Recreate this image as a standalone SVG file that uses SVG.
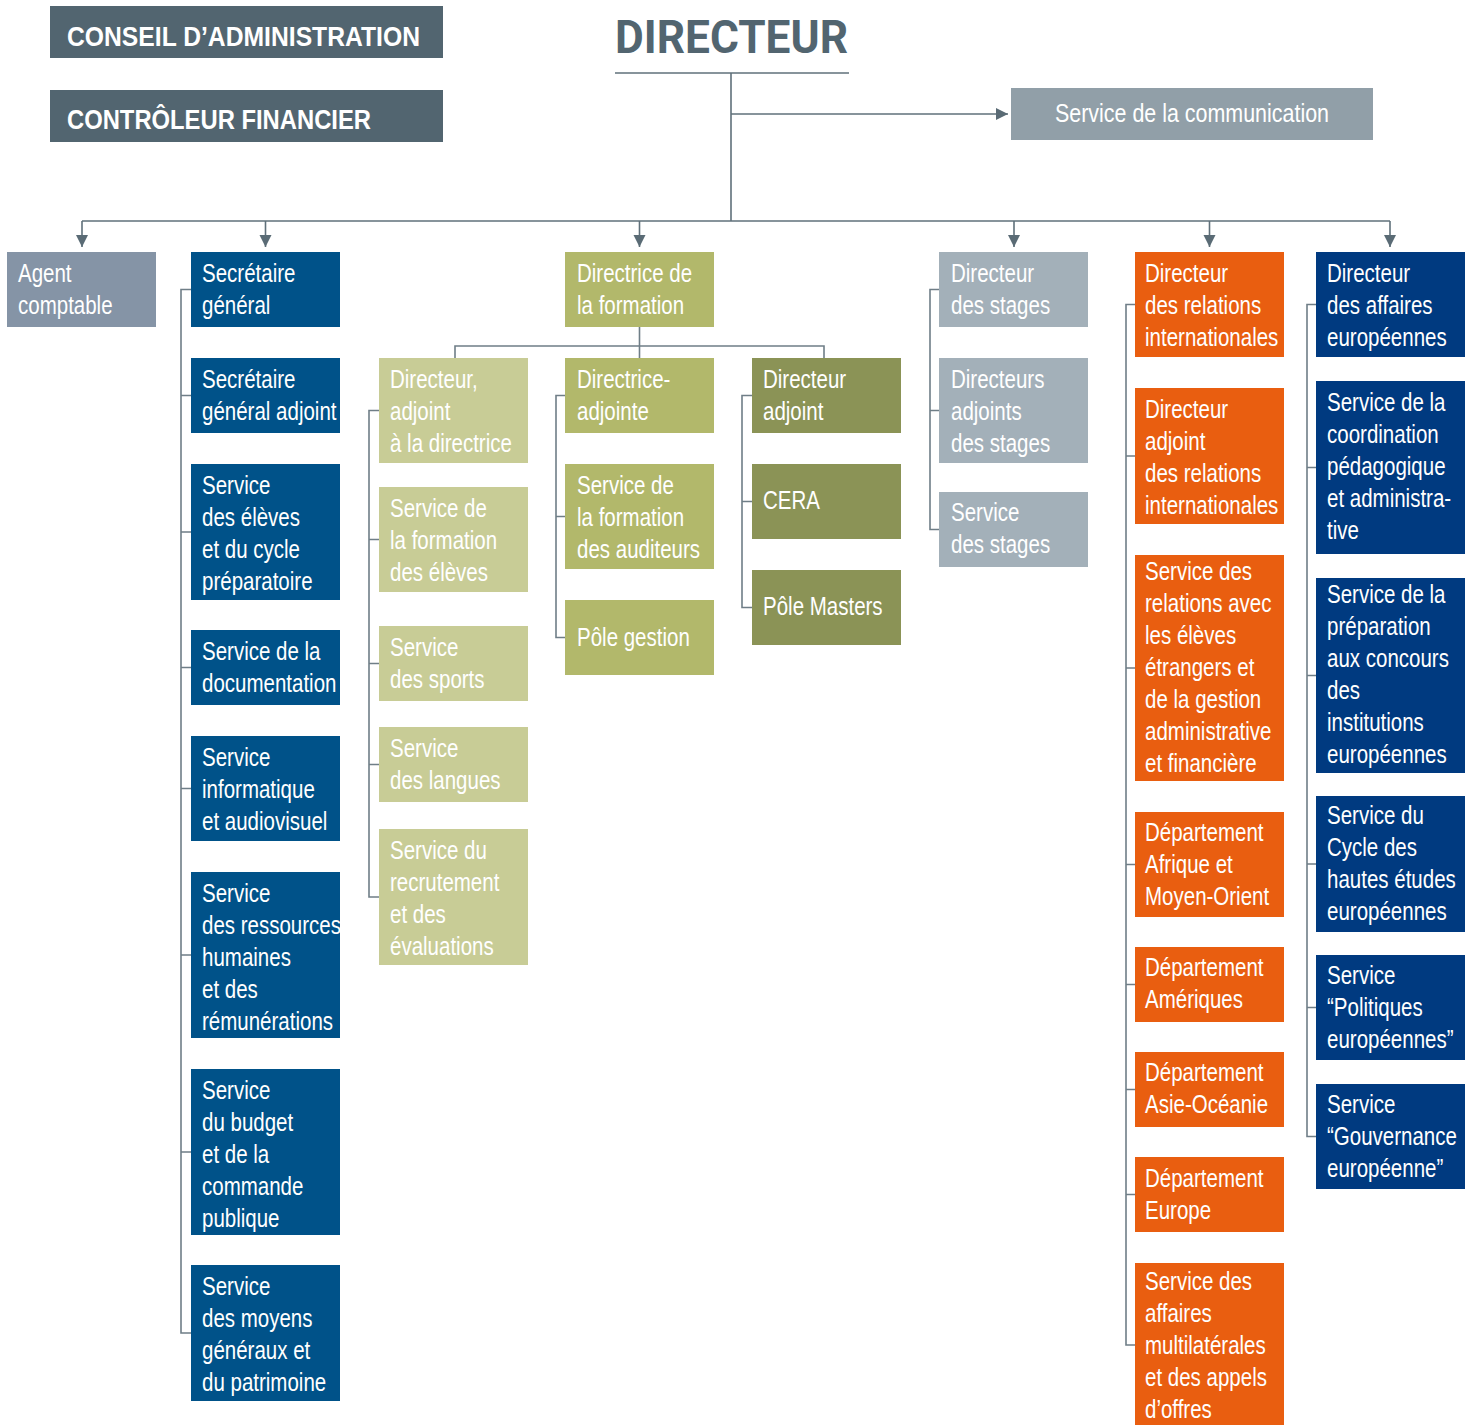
<svg xmlns="http://www.w3.org/2000/svg" width="1475" height="1425" viewBox="0 0 1475 1425">
<defs>
<style>
.t{font-family:"Liberation Sans",Arial,sans-serif;font-size:25px;fill:#ffffff;}
.h{font-family:"Liberation Sans",Arial,sans-serif;font-size:27px;font-weight:bold;fill:#ffffff;}
.dir{font-family:Roboto,"Liberation Sans",sans-serif;font-size:47px;font-weight:bold;fill:#526570;}
.ln{fill:none;stroke:#5f707a;stroke-width:1.6;}
.br{fill:none;stroke:#6f7e87;stroke-width:1.6;}
.hd{fill:#526570;}
.cm{fill:#919fa8;}
.ag{fill:#8594a6;}
.sg{fill:#005289;}
.f1{fill:#b2b86b;}
.fl{fill:#c8cc96;}
.fd{fill:#8b9356;}
.st{fill:#a3b0b9;}
.ri{fill:#e95e10;}
.ae{fill:#003a80;}
</style>
<marker id="arr" markerUnits="userSpaceOnUse" markerWidth="14" markerHeight="14" refX="12" refY="6" orient="auto">
<path d="M0,0 L12,6 L0,12 Z" fill="#5a6b75"/>
</marker>
</defs>
<rect width="1475" height="1425" fill="#ffffff"/>

<g id="connectors">
<path class="ln" d="M615,73 H849"/>
<path class="ln" d="M731,73 V221"/>
<path class="ln" d="M731,114 H1008" marker-end="url(#arr)"/>
<path class="ln" d="M82,221 H1390"/>
<path class="ln" d="M82,221 V247" marker-end="url(#arr)"/>
<path class="ln" d="M265.5,221 V247" marker-end="url(#arr)"/>
<path class="ln" d="M639.5,221 V247" marker-end="url(#arr)"/>
<path class="ln" d="M1014,221 V247" marker-end="url(#arr)"/>
<path class="ln" d="M1209.5,221 V247" marker-end="url(#arr)"/>
<path class="ln" d="M1390,221 V247" marker-end="url(#arr)"/>
<path class="br" d="M639.5,327 V358 M455,358 V346 H824 V358"/>
<path class="br" d="M191,289.5 H181 V1333 H191 M181,395.5 H191 M181,532 H191 M181,667.5 H191 M181,788.5 H191 M181,955 H191 M181,1152 H191"/>
<path class="br" d="M379,410.5 H369 V897 H379 M369,539.5 H379 M369,663.5 H379 M369,764.5 H379"/>
<path class="br" d="M565,395.5 H556 V637.5 H565 M556,516.5 H565"/>
<path class="br" d="M752,395.5 H742 V607.5 H752 M742,501.5 H752"/>
<path class="br" d="M939,289.5 H930 V529.5 H939 M930,410.5 H939"/>
<path class="br" d="M1135,304.5 H1126 V1345 H1135 M1126,456 H1135 M1126,668 H1135 M1126,864.5 H1135 M1126,984.5 H1135 M1126,1089.5 H1135 M1126,1194.5 H1135"/>
<path class="br" d="M1316,304.5 H1307 V1136.5 H1316 M1307,467.5 H1316 M1307,675.5 H1316 M1307,864 H1316 M1307,1007.5 H1316"/>
</g>

<g id="conseil"><rect class="hd" x="50" y="6" width="393" height="52"/><text class="h" x="67" y="46" textLength="353" lengthAdjust="spacingAndGlyphs">CONSEIL  D’ADMINISTRATION</text></g>
<g id="controleur"><rect class="hd" x="50" y="90" width="393" height="52"/><text class="h" x="67" y="129" textLength="304" lengthAdjust="spacingAndGlyphs">CONTRÔLEUR  FINANCIER</text></g>
<g id="directeur"><text class="dir" x="615" y="53" textLength="233" lengthAdjust="spacingAndGlyphs">DIRECTEUR</text></g>
<g id="communication"><rect class="cm" x="1011" y="88" width="362" height="52"/><text class="t" x="1055" y="122" textLength="274" lengthAdjust="spacingAndGlyphs" fill="#f1f3f4">Service de la communication</text></g>

<g id="agent"><rect class="ag" x="7" y="252" width="149" height="75"/><g transform="matrix(.82 0 0 1 18 0)"><text class="t" y="282">Agent</text><text class="t" y="314">comptable</text></g></g>

<g id="sg"><rect class="sg" x="191" y="252" width="149" height="75"/><g transform="matrix(.82 0 0 1 202 0)"><text class="t" y="282">Secrétaire</text><text class="t" y="314">général</text></g></g>
<g id="sga"><rect class="sg" x="191" y="358" width="149" height="75"/><g transform="matrix(.82 0 0 1 202 0)"><text class="t" y="388">Secrétaire</text><text class="t" y="420">général adjoint</text></g></g>
<g id="eleves"><rect class="sg" x="191" y="464" width="149" height="136"/><g transform="matrix(.82 0 0 1 202 0)"><text class="t" y="494">Service</text><text class="t" y="526">des élèves</text><text class="t" y="558">et du cycle</text><text class="t" y="590">préparatoire</text></g></g>
<g id="doc"><rect class="sg" x="191" y="630" width="149" height="75"/><g transform="matrix(.82 0 0 1 202 0)"><text class="t" y="660">Service de la</text><text class="t" y="692">documentation</text></g></g>
<g id="info"><rect class="sg" x="191" y="736" width="149" height="105"/><g transform="matrix(.82 0 0 1 202 0)"><text class="t" y="766">Service</text><text class="t" y="798">informatique</text><text class="t" y="830">et audiovisuel</text></g></g>
<g id="rh"><rect class="sg" x="191" y="872" width="149" height="166"/><g transform="matrix(.82 0 0 1 202 0)"><text class="t" y="902">Service</text><text class="t" y="934">des ressources</text><text class="t" y="966">humaines</text><text class="t" y="998">et des</text><text class="t" y="1030">rémunérations</text></g></g>
<g id="budget"><rect class="sg" x="191" y="1069" width="149" height="166"/><g transform="matrix(.82 0 0 1 202 0)"><text class="t" y="1099">Service</text><text class="t" y="1131">du budget</text><text class="t" y="1163">et de la</text><text class="t" y="1195">commande</text><text class="t" y="1227">publique</text></g></g>
<g id="moyens"><rect class="sg" x="191" y="1265" width="149" height="136"/><g transform="matrix(.82 0 0 1 202 0)"><text class="t" y="1295">Service</text><text class="t" y="1327">des moyens</text><text class="t" y="1359">généraux et</text><text class="t" y="1391">du patrimoine</text></g></g>

<g id="formation"><rect class="f1" x="565" y="252" width="149" height="75"/><g transform="matrix(.82 0 0 1 577 0)"><text class="t" y="282">Directrice de</text><text class="t" y="314">la formation</text></g></g>

<g id="adjdir"><rect class="fl" x="379" y="358" width="149" height="105"/><g transform="matrix(.82 0 0 1 390 0)"><text class="t" y="388">Directeur,</text><text class="t" y="420">adjoint</text><text class="t" y="452">à la directrice</text></g></g>
<g id="fel"><rect class="fl" x="379" y="487" width="149" height="105"/><g transform="matrix(.82 0 0 1 390 0)"><text class="t" y="517">Service de</text><text class="t" y="549">la formation</text><text class="t" y="581">des élèves</text></g></g>
<g id="sports"><rect class="fl" x="379" y="626" width="149" height="75"/><g transform="matrix(.82 0 0 1 390 0)"><text class="t" y="656">Service</text><text class="t" y="688">des sports</text></g></g>
<g id="langues"><rect class="fl" x="379" y="727" width="149" height="75"/><g transform="matrix(.82 0 0 1 390 0)"><text class="t" y="757">Service</text><text class="t" y="789">des langues</text></g></g>
<g id="recrut"><rect class="fl" x="379" y="829" width="149" height="136"/><g transform="matrix(.82 0 0 1 390 0)"><text class="t" y="859">Service du</text><text class="t" y="891">recrutement</text><text class="t" y="923">et des</text><text class="t" y="955">évaluations</text></g></g>

<g id="dira"><rect class="f1" x="565" y="358" width="149" height="75"/><g transform="matrix(.82 0 0 1 577 0)"><text class="t" y="388">Directrice-</text><text class="t" y="420">adjointe</text></g></g>
<g id="faud"><rect class="f1" x="565" y="464" width="149" height="105"/><g transform="matrix(.82 0 0 1 577 0)"><text class="t" y="494">Service de</text><text class="t" y="526">la formation</text><text class="t" y="558">des auditeurs</text></g></g>
<g id="gestion"><rect class="f1" x="565" y="600" width="149" height="75"/><g transform="matrix(.82 0 0 1 577 0)"><text class="t" y="646">Pôle gestion</text></g></g>

<g id="diradj"><rect class="fd" x="752" y="358" width="149" height="75"/><g transform="matrix(.82 0 0 1 763 0)"><text class="t" y="388">Directeur</text><text class="t" y="420">adjoint</text></g></g>
<g id="cera"><rect class="fd" x="752" y="464" width="149" height="75"/><g transform="matrix(.82 0 0 1 763 0)"><text class="t" y="509">CERA</text></g></g>
<g id="masters"><rect class="fd" x="752" y="570" width="149" height="75"/><g transform="matrix(.82 0 0 1 763 0)"><text class="t" y="615">Pôle Masters</text></g></g>

<g id="stages"><rect class="st" x="939" y="252" width="149" height="75"/><g transform="matrix(.82 0 0 1 951 0)"><text class="t" y="282">Directeur</text><text class="t" y="314">des stages</text></g></g>
<g id="stagesadj"><rect class="st" x="939" y="358" width="149" height="105"/><g transform="matrix(.82 0 0 1 951 0)"><text class="t" y="388">Directeurs</text><text class="t" y="420">adjoints</text><text class="t" y="452">des stages</text></g></g>
<g id="sstages"><rect class="st" x="939" y="492" width="149" height="75"/><g transform="matrix(.82 0 0 1 951 0)"><text class="t" y="521">Service</text><text class="t" y="553">des stages</text></g></g>

<g id="ri"><rect class="ri" x="1135" y="252" width="149" height="105"/><g transform="matrix(.82 0 0 1 1145 0)"><text class="t" y="282">Directeur</text><text class="t" y="314">des relations</text><text class="t" y="346">internationales</text></g></g>
<g id="riadj"><rect class="ri" x="1135" y="388" width="149" height="136"/><g transform="matrix(.82 0 0 1 1145 0)"><text class="t" y="418">Directeur</text><text class="t" y="450">adjoint</text><text class="t" y="482">des relations</text><text class="t" y="514">internationales</text></g></g>
<g id="etrangers"><rect class="ri" x="1135" y="555" width="149" height="226"/><g transform="matrix(.82 0 0 1 1145 0)"><text class="t" y="580">Service des</text><text class="t" y="612">relations avec</text><text class="t" y="644">les élèves</text><text class="t" y="676">étrangers et</text><text class="t" y="708">de la gestion</text><text class="t" y="740">administrative</text><text class="t" y="772">et financière</text></g></g>
<g id="afrique"><rect class="ri" x="1135" y="812" width="149" height="105"/><g transform="matrix(.82 0 0 1 1145 0)"><text class="t" y="841">Département</text><text class="t" y="873">Afrique et</text><text class="t" y="905">Moyen-Orient</text></g></g>
<g id="ameriques"><rect class="ri" x="1135" y="947" width="149" height="75"/><g transform="matrix(.82 0 0 1 1145 0)"><text class="t" y="976">Département</text><text class="t" y="1008">Amériques</text></g></g>
<g id="asie"><rect class="ri" x="1135" y="1052" width="149" height="75"/><g transform="matrix(.82 0 0 1 1145 0)"><text class="t" y="1081">Département</text><text class="t" y="1113">Asie-Océanie</text></g></g>
<g id="europe"><rect class="ri" x="1135" y="1157" width="149" height="75"/><g transform="matrix(.82 0 0 1 1145 0)"><text class="t" y="1187">Département</text><text class="t" y="1219">Europe</text></g></g>
<g id="multi"><rect class="ri" x="1135" y="1263" width="149" height="162"/><g transform="matrix(.82 0 0 1 1145 0)"><text class="t" y="1290">Service des</text><text class="t" y="1322">affaires</text><text class="t" y="1354">multilatérales</text><text class="t" y="1386">et des appels</text><text class="t" y="1418">d’offres</text></g></g>

<g id="ae"><rect class="ae" x="1316" y="252" width="149" height="105"/><g transform="matrix(.82 0 0 1 1327 0)"><text class="t" y="282">Directeur</text><text class="t" y="314">des affaires</text><text class="t" y="346">européennes</text></g></g>
<g id="coord"><rect class="ae" x="1316" y="381" width="149" height="173"/><g transform="matrix(.82 0 0 1 1327 0)"><text class="t" y="411">Service de la</text><text class="t" y="443">coordination</text><text class="t" y="475">pédagogique</text><text class="t" y="507">et administra-</text><text class="t" y="539">tive</text></g></g>
<g id="prep"><rect class="ae" x="1316" y="578" width="149" height="195"/><g transform="matrix(.82 0 0 1 1327 0)"><text class="t" y="603">Service de la</text><text class="t" y="635">préparation</text><text class="t" y="667">aux concours</text><text class="t" y="699">des</text><text class="t" y="731">institutions</text><text class="t" y="763">européennes</text></g></g>
<g id="cycle"><rect class="ae" x="1316" y="796" width="149" height="136"/><g transform="matrix(.82 0 0 1 1327 0)"><text class="t" y="824">Service du</text><text class="t" y="856">Cycle des</text><text class="t" y="888">hautes études</text><text class="t" y="920">européennes</text></g></g>
<g id="politiques"><rect class="ae" x="1316" y="955" width="149" height="105"/><g transform="matrix(.82 0 0 1 1327 0)"><text class="t" y="984">Service</text><text class="t" y="1016">“Politiques</text><text class="t" y="1048">européennes”</text></g></g>
<g id="gouvernance"><rect class="ae" x="1316" y="1084" width="149" height="105"/><g transform="matrix(.82 0 0 1 1327 0)"><text class="t" y="1113">Service</text><text class="t" y="1145">“Gouvernance</text><text class="t" y="1177">européenne”</text></g></g>
</svg>
